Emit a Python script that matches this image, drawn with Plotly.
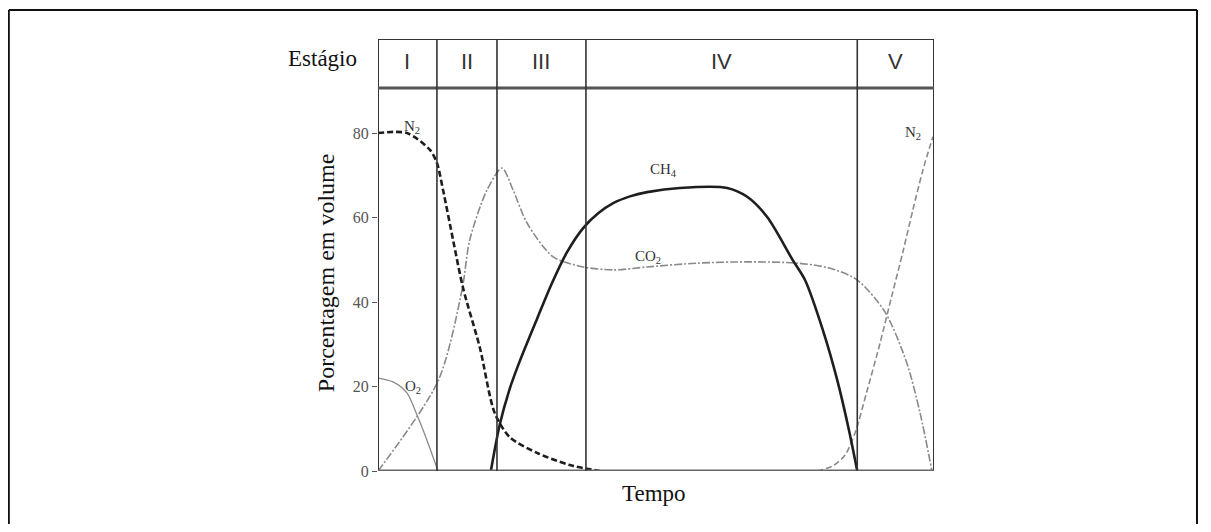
import plotly.graph_objects as go

# ---- data (x: tempo, 0-100 relative; y: % em volume) ----
n2_start_x = [0, 5.2, 9.35, 10.6, 11.7, 13.5, 15.3, 18.3, 21.0, 23.7, 28.6, 34.5, 39.9]
n2_start_y = [80, 80, 76.0, 72.9, 66.5, 54.7, 43.3, 29.3, 13.7, 8.0, 4.3, 1.4, 0]

o2_x = [0, 2.7, 5.2, 7.0, 8.8, 10.8]
o2_y = [22.0, 21.1, 18.5, 13.3, 7.3, 0]

co2_x = [0, 10.8, 15.1, 16.5, 19.6, 22.3, 24.3, 26.8, 31.5, 36.9, 42.3, 48.4, 57.4,
         66.4, 75.4, 81.3, 86.2, 91.2, 95.1, 97.5, 99.6]
co2_y = [0, 21.3, 42.8, 54.7, 66.5, 71.7, 66.5, 58.7, 50.7, 48.3, 47.6, 48.3, 49.2,
         49.5, 49.2, 48.0, 45.2, 37.6, 25.6, 13.7, 0.2]

ch4_x = [20.3, 21.9, 23.7, 25.5, 28.6, 31.3, 34.0, 36.9, 39.6, 42.3, 45.3, 48.4, 54.3,
         62.8, 66.4, 70.0, 74.6, 76.8, 80.0, 82.6, 84.7, 86.2]
ch4_y = [0, 11.0, 19.5, 26.0, 36.0, 44.5, 51.8, 57.5, 61.0, 63.4, 65.0, 66.0, 67.0,
         67.0, 64.9, 60.1, 49.9, 45.2, 33.4, 21.5, 9.7, 0]

n2_end_x = [79.0, 81.8, 84.0, 85.8, 87.9, 90.3, 92.4, 94.4, 96.2, 98.0, 99.8]
n2_end_y = [0, 1.2, 3.8, 9.0, 18.7, 30.3, 41.4, 51.8, 61.8, 71.2, 79.1]

stage_labels = ["I", "II", "III", "IV", "V"]
stage_bounds = [0, 10.6, 21.4, 37.4, 86.2, 100]

y_ticks = [0, 20, 40, 60, 80]
y_max = 102.25
header_y = 90.65

serif = "Liberation Serif, Times New Roman, serif"
sans = "Liberation Sans Narrow, Arial Narrow, Liberation Sans, Arial, sans-serif"

fig = go.Figure()

def add_line(x, y, color, width, dash):
    fig.add_trace(go.Scatter(x=x, y=y, mode="lines",
                             line=dict(color=color, width=width, dash=dash,
                                       shape="spline", smoothing=0.8),
                             hoverinfo="skip", showlegend=False))

add_line(o2_x, o2_y, "#8a8a8a", 1.3, "solid")
add_line(co2_x, co2_y, "#8a8a8a", 1.6, "8px,2px,2px,2px")
add_line(n2_end_x, n2_end_y, "#8a8a8a", 1.6, "6px,3px")
add_line(ch4_x, ch4_y, "#1e1e1e", 2.6, "solid")
add_line(n2_start_x, n2_start_y, "#1e1e1e", 2.6, "6px,3px")

shapes = []
# plot frame
shapes.append(dict(type="line", x0=0, x1=0, y0=0, y1=y_max, line=dict(color="#333", width=2)))
shapes.append(dict(type="line", x0=100, x1=100, y0=0, y1=y_max, line=dict(color="#333", width=2)))
shapes.append(dict(type="line", x0=0, x1=100, y0=y_max, y1=y_max, line=dict(color="#333", width=2)))
shapes.append(dict(type="line", x0=0, x1=100, y0=header_y, y1=header_y, line=dict(color="#555", width=3)))
shapes.append(dict(type="line", x0=0, x1=100, y0=0, y1=0, line=dict(color="#666", width=3)))
for b in stage_bounds[1:-1]:
    shapes.append(dict(type="line", x0=b, x1=b, y0=0, y1=y_max, line=dict(color="#333", width=1.6)))
# outer border of the picture (top, left, right)
shapes.append(dict(type="line", xref="paper", yref="paper", x0=-0.664, x1=1.473, y0=1.067, y1=1.067,
                   line=dict(color="#111", width=2)))
shapes.append(dict(type="line", xref="paper", yref="paper", x0=-0.664, x1=-0.664, y0=1.067, y1=-0.15,
                   line=dict(color="#111", width=2)))
shapes.append(dict(type="line", xref="paper", yref="paper", x0=1.473, x1=1.473, y0=1.067, y1=-0.15,
                   line=dict(color="#111", width=2)))

annotations = []
for i, lab in enumerate(stage_labels):
    annotations.append(dict(x=(stage_bounds[i] + stage_bounds[i + 1]) / 2, y=(y_max + header_y) / 2 + 0.5,
                            text=lab, showarrow=False, xanchor="center", yanchor="middle",
                            font=dict(family=sans, size=22, color="#333")))
annotations.append(dict(xref="paper", yref="paper", x=-0.099, y=0.954, text="Estágio", showarrow=False,
                        xanchor="center", yanchor="middle",
                        font=dict(family=serif, size=23, color="#111")))
annotations.append(dict(xref="paper", yref="paper", x=0.496, y=-0.051, text="Tempo", showarrow=False,
                        xanchor="center", yanchor="middle",
                        font=dict(family=serif, size=23, color="#111")))
annotations.append(dict(xref="paper", yref="paper", x=-0.0935, y=0.458, text="Porcentagem em volume",
                        textangle=-90, showarrow=False, xanchor="center", yanchor="middle",
                        font=dict(family=serif, size=24, color="#111")))

curve_labels = [("N<sub>2</sub>", 6.1, 81.4), ("O<sub>2</sub>", 6.3, 19.9), ("CH<sub>4</sub>", 51.3, 71.2),
                ("CO<sub>2</sub>", 48.6, 50.7), ("N<sub>2</sub>", 96.2, 80.0)]
for t, x, y in curve_labels:
    annotations.append(dict(x=x, y=y, text=t, showarrow=False, xanchor="center", yanchor="middle",
                            font=dict(family=serif, size=15, color="#333")))

fig.update_layout(
    width=1195, height=516,
    margin=dict(l=370, r=269, t=31, b=53),
    paper_bgcolor="white", plot_bgcolor="white",
    shapes=shapes, annotations=annotations,
    xaxis=dict(range=[0, 100], showgrid=False, zeroline=False, showticklabels=False,
               ticks="", showline=False, fixedrange=True),
    yaxis=dict(range=[0, y_max], showgrid=False, zeroline=False, tickvals=y_ticks,
               ticktext=[str(v) for v in y_ticks], ticks="outside", ticklen=5, tickcolor="#555",
               tickfont=dict(family=serif, size=16, color="#555"), showline=False, fixedrange=True),
)

fig.write_html("out.html")
